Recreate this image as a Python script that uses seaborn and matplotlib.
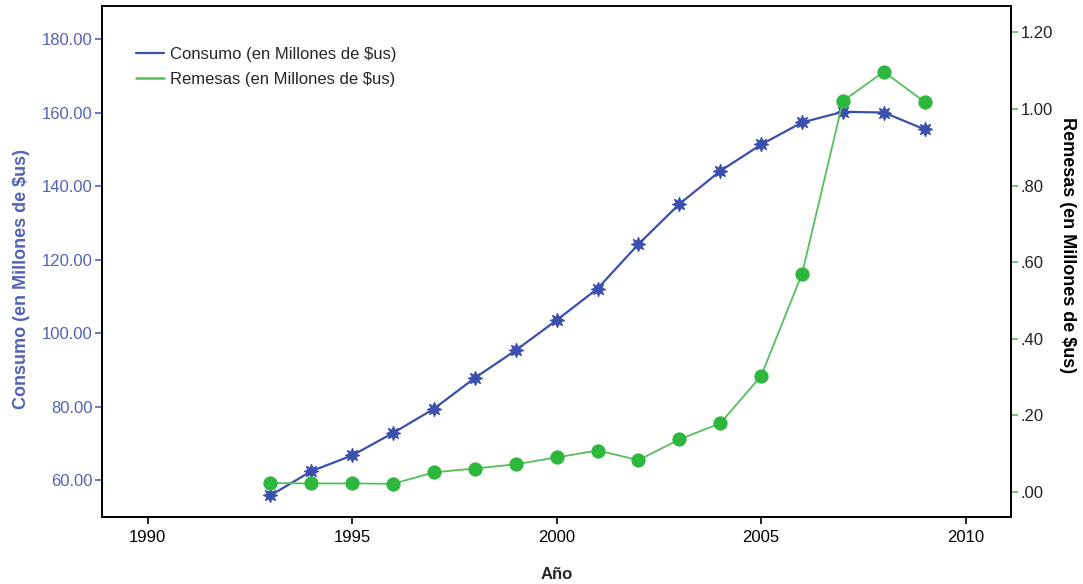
import pandas as pd
import matplotlib
matplotlib.use("Agg")
import matplotlib.pyplot as plt
import seaborn as sns
from matplotlib.lines import Line2D
from matplotlib.ticker import FuncFormatter

# -----------------------------
# Data
# -----------------------------
years = list(range(1993, 2010))
consumo = [55.9, 62.5, 66.8, 72.9, 79.5, 87.9, 95.4, 103.6, 112.2,
           124.3, 135.2, 144.2, 151.4, 157.4, 160.3, 160.1, 155.5]
remesas = [0.023, 0.022, 0.022, 0.021, 0.051, 0.061, 0.072, 0.090, 0.108,
           0.083, 0.137, 0.179, 0.303, 0.570, 1.021, 1.097, 1.018]

x_ticks = [1990, 1995, 2000, 2005, 2010]
left_ticks = [60, 80, 100, 120, 140, 160, 180]
right_ticks = [0.0, 0.2, 0.4, 0.6, 0.8, 1.0, 1.2]

label_consumo = "Consumo (en Millones de $us)"
label_remesas = "Remesas (en Millones de $us)"

df = pd.DataFrame({"year": years, "consumo": consumo, "remesas": remesas})

# -----------------------------
# Style
# -----------------------------
sns.set_style("white")
plt.rcParams["font.family"] = ["Liberation Sans", "DejaVu Sans"]

blue = "#3a4fae"
blue_text = "#5262b6"
green_line = "#55c05a"
green_mark = "#2db83d"

fig = plt.figure(figsize=(10.83, 5.84), dpi=100)
ax = fig.add_axes([0.0945, 0.1145, 0.8387, 0.8747])
ax2 = ax.twinx()

sns.lineplot(data=df, x="year", y="consumo", ax=ax, color=blue, linewidth=1.6,
             marker=(8, 1, 0), markersize=10.5, markeredgecolor=blue,
             markerfacecolor=blue)
sns.lineplot(data=df, x="year", y="remesas", ax=ax2, color=green_line, linewidth=1.3,
             marker="o", markersize=9.5, markeredgecolor=green_mark,
             markerfacecolor=green_mark)

# -----------------------------
# Axes
# -----------------------------
ax.set_xlim(1988.89, 2011.1)
ax.set_ylim(50.0, 189.0)
ax2.set_ylim(-0.066, 1.268)

ax.set_xticks(x_ticks)
ax.set_yticks(left_ticks)
ax2.set_yticks(right_ticks)

ax.yaxis.set_major_formatter(FuncFormatter(lambda v, p: f"{v:.2f}"))
ax2.yaxis.set_major_formatter(
    FuncFormatter(lambda v, p: f"{v:.2f}".lstrip("0") if v < 1 else f"{v:.2f}"))

ax.tick_params(axis="x", direction="out", length=5, width=1.2, colors="black",
               labelsize=12, bottom=True, pad=4)
ax.tick_params(axis="y", direction="out", length=5, width=1.2, color=blue_text,
               labelcolor=blue_text, labelsize=12, left=True, pad=2)
ax2.tick_params(axis="y", direction="out", length=5, width=1.2, color=green_line,
                labelcolor="#222222", labelsize=12, right=True, pad=2)

ax.set_xlabel("Año", fontsize=12, fontweight="bold")
ax.xaxis.set_label_coords(0.5, -0.097)
ax.set_ylabel(label_consumo, fontsize=13, fontweight="bold", color=blue_text,
              va="center")
ax.yaxis.set_label_coords(-0.0895, 0.466)
ax2.set_ylabel(label_remesas, fontsize=13, fontweight="bold", color="black",
               rotation=270, va="center")
ax2.yaxis.set_label_coords(1.063, 0.532)

for a in (ax, ax2):
    for s in a.spines.values():
        s.set_visible(True)
        s.set_color("black")
        s.set_linewidth(1.3)
ax.spines["top"].set_color("#555555")

# -----------------------------
# Legend
# -----------------------------
handles = [Line2D([], [], color=blue, linewidth=1.6),
           Line2D([], [], color=green_line, linewidth=1.8)]
ax.legend(handles, [label_consumo, label_remesas], loc="upper left",
          bbox_to_anchor=(0.02, 0.95), frameon=False, fontsize=12,
          handlelength=1.7, handletextpad=0.35, labelspacing=0.62)

fig.savefig("out.png", dpi=100)
